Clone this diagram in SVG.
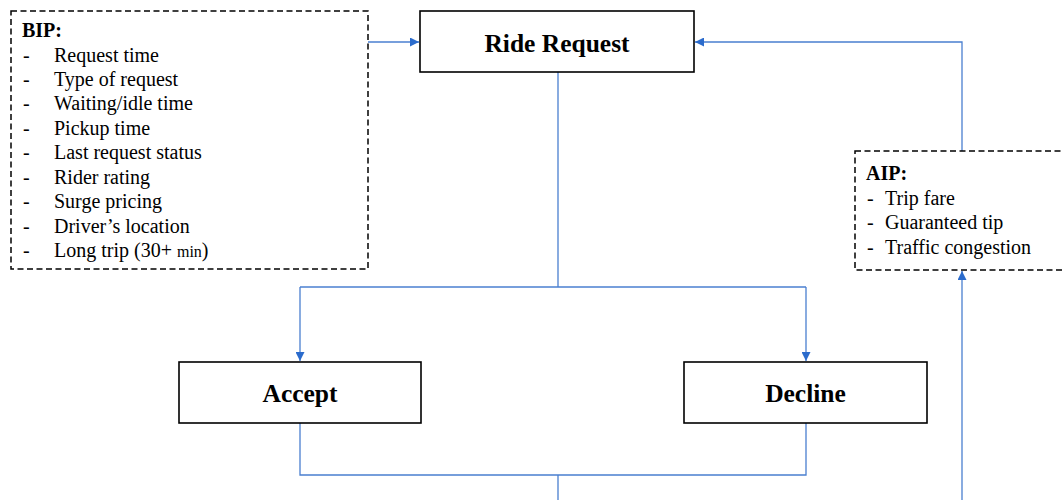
<svg xmlns="http://www.w3.org/2000/svg" width="1063" height="500" viewBox="0 0 1063 500">
<defs>
<style>
.box{fill:#fff;stroke:#000;stroke-width:1.6}
.dbox{fill:#fff;stroke:#000;stroke-width:1.5;stroke-dasharray:6 3.5}
.t{font-family:"Liberation Serif","Times New Roman",serif;font-size:20px;fill:#000}
.b{font-weight:bold}
.title{font-family:"Liberation Serif","Times New Roman",serif;font-size:25.5px;font-weight:bold;fill:#000;text-anchor:middle}
.c{fill:none;stroke:#4a7fd0;stroke-width:1.3}
</style>
<marker id="ah" viewBox="0 0 10 10" refX="10" refY="5" markerWidth="9" markerHeight="9" markerUnits="userSpaceOnUse" orient="auto">
<path d="M0,0 L10,5 L0,10 z" fill="#2b6bcc"/>
</marker>
</defs>

<g id="connectors">
<path class="c" d="M368,42 H419" marker-end="url(#ah)"/>
<path class="c" d="M962,151 V42 H695" marker-end="url(#ah)"/>
<path class="c" d="M962,500 V271" marker-end="url(#ah)"/>
<path class="c" d="M558,72 V287"/>
<path class="c" d="M300,287 H806"/>
<path class="c" d="M300,287 V361" marker-end="url(#ah)"/>
<path class="c" d="M806,287 V361" marker-end="url(#ah)"/>
<path class="c" d="M300,423 V475 H806 V423"/>
<path class="c" d="M558,475 V500"/>
</g>

<g id="bip">
<rect class="dbox" x="11" y="11" width="357" height="258"/>
<text class="t b" x="22" y="37">BIP:</text>
<g class="t">
<text x="23" y="62">-</text><text x="54" y="62">Request time</text>
<text x="23" y="86">-</text><text x="54" y="86">Type of request</text>
<text x="23" y="110">-</text><text x="54" y="110">Waiting/idle time</text>
<text x="23" y="135">-</text><text x="54" y="135">Pickup time</text>
<text x="23" y="159">-</text><text x="54" y="159">Last request status</text>
<text x="23" y="184">-</text><text x="54" y="184">Rider rating</text>
<text x="23" y="208">-</text><text x="54" y="208">Surge pricing</text>
<text x="23" y="233">-</text><text x="54" y="233">Driver’s location</text>
<text x="23" y="257">-</text><text x="54" y="257">Long trip (30+ <tspan font-size="16">min</tspan>)</text>
</g>
</g>

<g id="ride-request">
<rect class="box" x="420" y="11" width="274" height="61"/>
<text class="title" x="557" y="52">Ride Request</text>
</g>

<g id="aip">
<rect class="dbox" x="855" y="151" width="215" height="119"/>
<text class="t b" x="866" y="180">AIP:</text>
<g class="t">
<text x="867" y="205">-</text><text x="885" y="205">Trip fare</text>
<text x="867" y="229">-</text><text x="885" y="229">Guaranteed tip</text>
<text x="867" y="254">-</text><text x="885" y="254">Traffic congestion</text>
</g>
</g>

<g id="accept">
<rect class="box" x="179" y="362" width="242" height="61"/>
<text class="title" x="300" y="402">Accept</text>
</g>

<g id="decline">
<rect class="box" x="684" y="362" width="243" height="61"/>
<text class="title" x="805.5" y="402">Decline</text>
</g>
</svg>
